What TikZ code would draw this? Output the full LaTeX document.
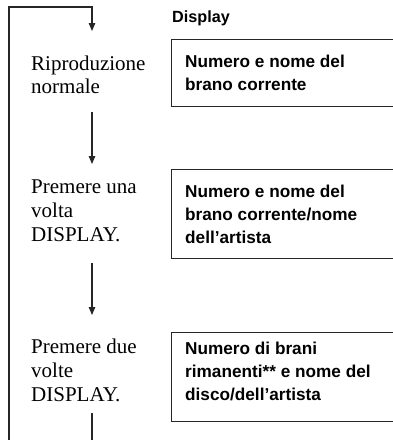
\documentclass[tikz,border=0pt]{standalone}
\usepackage{fontspec}
\setmainfont{Liberation Serif}
\newfontfamily\dispfont{Liberation Sans}
\usetikzlibrary{arrows.meta}
\tikzset{
  flow/.style={line width=1.1pt, draw=black!85},
  arr/.style={flow, -{Triangle[width=6.5pt,length=8pt]}},
  steptext/.style={anchor=base west, inner sep=0pt, align=left,
    font=\fontsize{21}{24.3}\selectfont},
  disptext/.style={anchor=base west, inner sep=0pt, align=left,
    font=\dispfont\bfseries\fontsize{17.2}{23}\selectfont},
  dbox/.style={draw=black!85, line width=1.1pt, anchor=north west, inner sep=0pt}
}
\begin{document}
\begin{tikzpicture}[x=1pt,y=-1pt]
\useasboundingbox (0,0) rectangle (393,440);
\clip (0,0) rectangle (393,440);
% header
\node[disptext, font=\dispfont\bfseries\fontsize{16.2}{19}\selectfont] (hdr) at (172,22.5) {Display};
% display boxes
\node[dbox, minimum width=300pt, minimum height=67pt] (b1) at (171,39) {};
\node[dbox, minimum width=300pt, minimum height=89pt] (b2) at (171,169) {};
\node[dbox, minimum width=300pt, minimum height=89pt] (b3) at (171,332) {};
% display texts (base = last line)
\node[disptext] (d1) at (185,90) {Numero e nome del\\brano corrente};
\node[disptext] (d2) at (185,243) {Numero e nome del\\brano corrente/nome\\dell’artista};
\node[disptext] (d3) at (185,400) {Numero di brani\\rimanenti** e nome del\\disco/dell’artista};
% step texts (base = last line)
\node[steptext, font=\fontsize{21}{23}\selectfont] (s1) at (31,93) {Riproduzione\\normale};
\node[steptext] (s2) at (31,241.7) {Premere una\\volta\\DISPLAY.};
\node[steptext] (s3) at (31,401.7) {Premere due\\volte\\DISPLAY.};
% connectors
\coordinate (loopb) at (9,446);
\coordinate (loopt) at (92,7);
\coordinate (a0e) at (92,31);
\coordinate (a1s) at (92,112);
\coordinate (a1e) at (92,164);
\coordinate (a2s) at (92,263);
\coordinate (a2e) at (92,315);
\coordinate (a3s) at (92,413);
\coordinate (a3e) at (92,446);
\draw[arr] (loopb) |- (loopt) -- (a0e);
\draw[arr] (a1s) -- (a1e);
\draw[arr] (a2s) -- (a2e);
\draw[flow] (a3s) -- (a3e);
\end{tikzpicture}
\end{document}
